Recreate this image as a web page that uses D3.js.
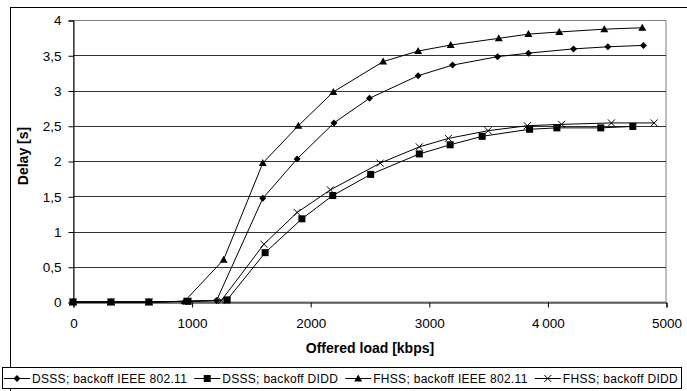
<!DOCTYPE html>
<html><head><meta charset="utf-8">
<script src="https://cdn.jsdelivr.net/npm/d3@7"></script>
<style>body{margin:0;background:#fff}svg{display:block}text{font-family:Arial,"Liberation Sans",sans-serif}</style>
</head><body>
<svg id="c" width="687" height="391"></svg>
<script>
const seriesNames = ["DSSS; backoff IEEE 802.11","DSSS; backoff DIDD","FHSS; backoff IEEE 802.11","FHSS; backoff DIDD"];
const dsssIeeeX = [0,320,640,950,1210,1600,1890,2200,2500,2910,3200,3580,3840,4220,4510,4810];
const dsssIeeeY = [0,0,0,0.01,0.02,1.47,2.03,2.54,2.89,3.21,3.36,3.48,3.53,3.59,3.62,3.64];
const dsssDiddX = [0,320,640,970,1300,1620,1930,2190,2510,2920,3180,3450,3850,4080,4450,4720];
const dsssDiddY = [0,0,0,0.01,0.03,0.70,1.18,1.51,1.81,2.10,2.23,2.35,2.45,2.47,2.47,2.49];
const fhssIeeeX = [0,320,640,940,1270,1600,1900,2195,2615,2910,3185,3590,3840,4100,4480,4800];
const fhssIeeeY = [0,0,0,0.01,0.60,1.97,2.50,2.98,3.41,3.56,3.645,3.74,3.80,3.83,3.87,3.89];
const fhssDiddX = [0,320,640,960,1250,1610,1890,2170,2590,2920,3165,3500,3830,4120,4540,4900];
const fhssDiddY = [0,0,0,0.01,0.02,0.82,1.27,1.59,1.97,2.20,2.32,2.43,2.50,2.52,2.54,2.54];
const xTicks = [0,1000,2000,3000,4000,5000];
const yTicks = [0,0.5,1,1.5,2,2.5,3,3.5,4];
const markerTypes = ["diamond","square","triangle","cross"];

const svg = d3.select("#c");
const x = d3.scaleLinear().domain([0,5000]).range([73,666]);
const y = d3.scaleLinear().domain([0,4]).range([302,20]);

// outer frame
svg.append("rect").attr("x",10.5).attr("y",7.5).attr("width",690).attr("height",400)
  .attr("fill","none").attr("stroke","#000").attr("stroke-width",1);

// plot area border (top/right gray)
svg.append("rect").attr("x",73.5).attr("y",20.5).attr("width",592.5).attr("height",281.5)
  .attr("fill","none").attr("stroke","#808080").attr("stroke-width",1);

// gridlines
svg.append("g").selectAll("line").data(yTicks.filter(d=>d>0)).join("line")
  .attr("x1",73).attr("x2",666).attr("y1",d=>Math.round(y(d))+0.5).attr("y2",d=>Math.round(y(d))+0.5)
  .attr("stroke",d=>d===4?"#808080":"#333").attr("stroke-width",1);

// axes
const yAxis = d3.axisLeft(y).tickValues(yTicks).tickSize(5).tickPadding(7)
  .tickFormat(d=>String(d).replace(".",","));
const gy = svg.append("g").attr("transform","translate(73.5,0.5)").call(yAxis);
gy.selectAll("text").attr("font-size",13.5).attr("fill","#000");
gy.select(".domain").attr("stroke","#000");
gy.selectAll(".tick line").attr("stroke","#000");

const xAxis = d3.axisBottom(x).tickValues(xTicks).tickSize(5).tickPadding(11)
  .tickFormat(d=>d===4000?"4\u2009000":String(d));
const gx = svg.append("g").attr("transform","translate(0.5,302.5)").call(xAxis);
gx.selectAll("text").attr("font-size",13.5).attr("fill","#000");
gx.select(".domain").attr("stroke","#000");
gx.selectAll(".tick line").attr("stroke","#000");

// axis titles
svg.append("text").attr("transform","translate(28,156) rotate(-90)").attr("text-anchor","middle")
  .attr("font-size",14).attr("font-weight","bold").text("Delay [s]");
svg.append("text").attr("x",370).attr("y",353).attr("text-anchor","middle")
  .attr("font-size",14).attr("font-weight","bold").text("Offered load [kbps]");

// markers
function drawMarker(g, type, cx, cy){
  if(type==="diamond"){
    g.append("path").attr("d",`M${cx},${cy-3.5}L${cx+3.5},${cy}L${cx},${cy+3.5}L${cx-3.5},${cy}Z`).attr("fill","#000");
  } else if(type==="square"){
    g.append("rect").attr("x",cx-3.5).attr("y",cy-3.5).attr("width",7).attr("height",7).attr("fill","#000");
  } else if(type==="triangle"){
    g.append("path").attr("d",`M${cx},${cy-4}L${cx+4},${cy+3}L${cx-4},${cy+3}Z`).attr("fill","#000");
  } else {
    g.append("path").attr("d",`M${cx-3.5},${cy-3.5}L${cx+3.5},${cy+3.5}M${cx+3.5},${cy-3.5}L${cx-3.5},${cy+3.5}`)
      .attr("stroke","#000").attr("stroke-width",1);
  }
}

const data = [
  dsssIeeeX.map((v,i)=>[v,dsssIeeeY[i]]),
  dsssDiddX.map((v,i)=>[v,dsssDiddY[i]]),
  fhssIeeeX.map((v,i)=>[v,fhssIeeeY[i]]),
  fhssDiddX.map((v,i)=>[v,fhssDiddY[i]])
];
const line = d3.line().x(d=>x(d[0])).y(d=>y(d[1]));
const gs = svg.append("g");
data.forEach((s,k)=>{
  gs.append("path").attr("d",line(s)).attr("fill","none").attr("stroke","#000").attr("stroke-width",1);
});
data.forEach((s,k)=>{
  const g = gs.append("g");
  s.forEach(d=>drawMarker(g, markerTypes[k], x(d[0]), y(d[1])));
});

// legend
const lg = svg.append("g");
lg.append("rect").attr("x",2.5).attr("y",367.5).attr("width",679).attr("height",21)
  .attr("fill","#fff").attr("stroke","#000").attr("stroke-width",1);
const ly = 378.5;
const texts = seriesNames.map(name=>lg.append("text").attr("y",ly+4).attr("font-size",12)
  .attr("letter-spacing",0.3).attr("fill","#000").text(name));
const widths = texts.map(t=>t.getBBox ? t.node().getBBox().width : t.node().getComputedTextLength());
const lineW = 26, textOff = 28;
const start = 4, end = 678;
const total = d3.sum(widths) + 4*textOff;
const gap = Math.max(1, (end - start - total)/3);
let cx = start;
seriesNames.forEach((name,k)=>{
  lg.append("line").attr("x1",cx).attr("x2",cx+lineW).attr("y1",ly).attr("y2",ly).attr("stroke","#000");
  drawMarker(lg, markerTypes[k], cx+lineW/2, ly);
  texts[k].attr("x",cx+textOff);
  cx += textOff + widths[k] + gap;
});
</script>
</body></html>
